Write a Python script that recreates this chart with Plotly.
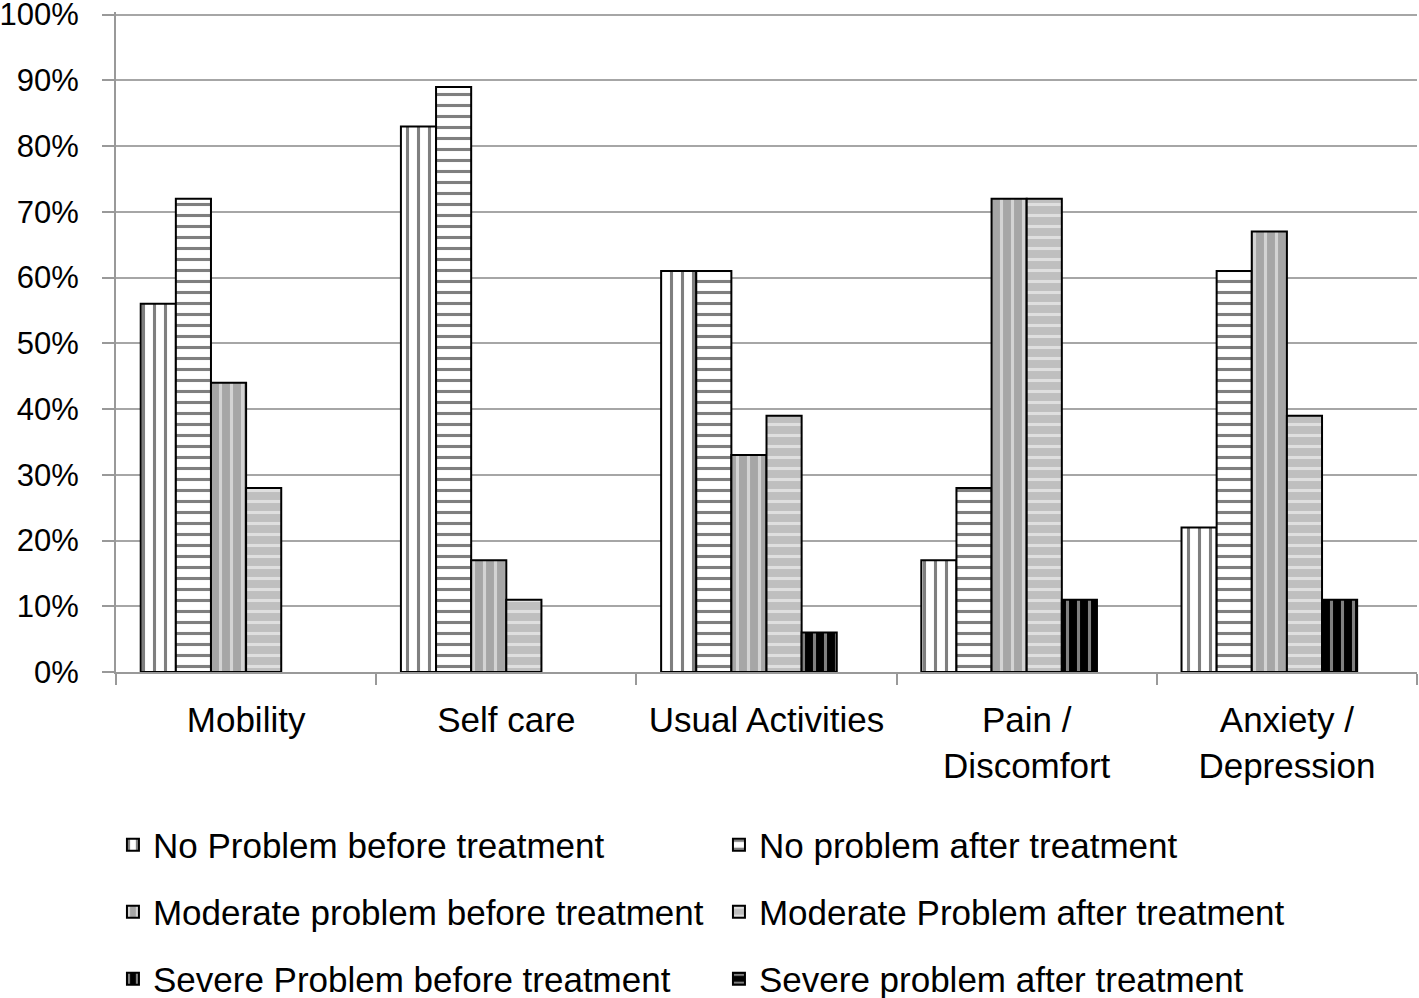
import plotly.graph_objects as go

categories = ["Mobility", "Self care", "Usual Activities", "Pain /<br>Discomfort", "Anxiety /<br>Depression"]
no_before = [56, 83, 61, 17, 22]
no_after = [72, 89, 61, 28, 61]
mod_before = [44, 17, 33, 72, 67]
mod_after = [28, 11, 39, 72, 39]
sev_before = [0, 0, 6, 11, 11]
sev_after = [0, 0, 0, 0, 0]
y_ticks = list(range(0, 101, 10))

FONT = "Liberation Sans"
series = [
    ("No Problem before treatment", no_before, "white", "black", "|", "legend"),
    ("No problem after treatment", no_after, "white", "black", "-", "legend"),
    ("Moderate problem before treatment", mod_before, "#a6a6a6", "white", "|", "legend2"),
    ("Moderate Problem after treatment", mod_after, "#bfbfbf", "white", "-", "legend2"),
    ("Severe Problem before treatment", sev_before, "black", "white", "|", "legend3"),
    ("Severe problem after treatment", sev_after, "black", "white", "-", "legend3"),
]

fig = go.Figure()
for name, vals, bg, fg, shape, leg in series:
    fig.add_trace(go.Bar(
        x=categories, y=[v if v else None for v in vals], name=name, legend=leg,
        marker=dict(color=bg, line=dict(color="black", width=2),
                    pattern=dict(shape=shape, bgcolor=bg, fgcolor=fg, size=11, solidity=0.28)),
    ))

def leg(yc):
    return dict(orientation="h", xref="container", yref="container",
                x=0.0796, xanchor="left", y=yc, yanchor="middle",
                entrywidth=561, entrywidthmode="pixels",
                font=dict(family=FONT, size=35, color="black"), traceorder="normal",
                bgcolor="rgba(0,0,0,0)")

fig.update_layout(
    width=1419, height=998,
    margin=dict(l=116, r=2, t=12, b=326, autoexpand=False),
    paper_bgcolor="white", plot_bgcolor="white",
    barmode="group", bargap=0.19, bargroupgap=0,
    font=dict(family=FONT, size=35, color="black"),
    legend=leg(1 - 845 / 998), legend2=leg(1 - 912 / 998), legend3=leg(1 - 979 / 998),
    xaxis=dict(showline=True, linecolor="#999999", linewidth=2, ticks="outside",
               tickson="boundaries", ticklen=11, tickcolor="#999999", tickwidth=2,
               ticklabelstandoff=16, automargin=False,
               tickfont=dict(family=FONT, size=35, color="black")),
    yaxis=dict(range=[0, 100.4], tickvals=y_ticks, ticktext=[f"{v}%" for v in y_ticks],
               showline=True, linecolor="#999999", linewidth=2, ticks="outside",
               ticklen=12, tickcolor="#999999", tickwidth=2, ticklabelstandoff=17,
               ticklabeloverflow="allow", automargin=False,
               showgrid=True, gridcolor="#a6a6a6", gridwidth=2,
               tickfont=dict(family=FONT, size=31, color="black")),
)
fig.write_html("out.html", config={"displayModeBar": False},
               post_script="document.body.style.margin='0';")
